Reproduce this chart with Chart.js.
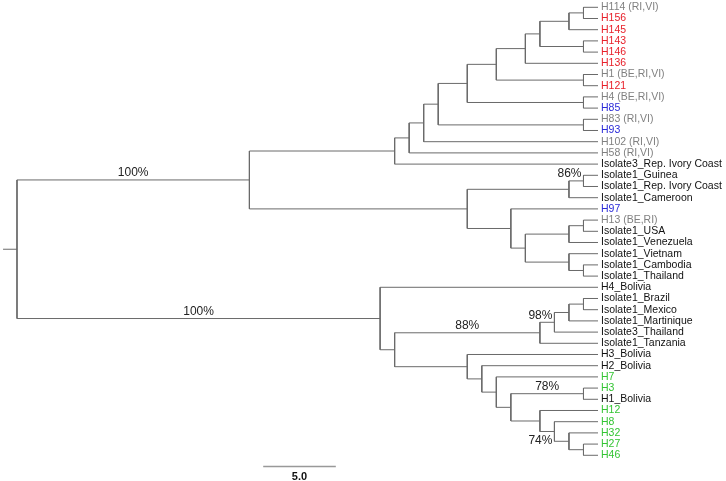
<!DOCTYPE html>
<html><head><meta charset="utf-8">
<style>html,body{margin:0;padding:0;background:#fff;}canvas{display:block;}</style>
<script src="https://cdn.jsdelivr.net/npm/chart.js@4.4.1/dist/chart.umd.min.js"></script>
</head><body>
<canvas id="c" width="726" height="481"></canvas>
<script>
// ---- data ----
const leaves = [
  'H114 (RI,VI)','H156','H145','H143','H146','H136','H1 (BE,RI,VI)','H121','H4 (BE,RI,VI)','H85',
  'H83 (RI,VI)','H93','H102 (RI,VI)','H58 (RI,VI)','Isolate3_Rep. Ivory Coast','Isolate1_Guinea',
  'Isolate1_Rep. Ivory Coast','Isolate1_Cameroon','H97','H13 (BE,RI)','Isolate1_USA','Isolate1_Venezuela',
  'Isolate1_Vietnam','Isolate1_Cambodia','Isolate1_Thailand','H4_Bolivia','Isolate1_Brazil','Isolate1_Mexico',
  'Isolate1_Martinique','Isolate3_Thailand','Isolate1_Tanzania','H3_Bolivia','H2_Bolivia','H7','H3',
  'H1_Bolivia','H12','H8','H32','H27','H46'
];
const leafGroups = [
  'gray','red','red','red','red','red','gray','red','gray','blue',
  'gray','blue','gray','gray','black','black',
  'black','black','blue','gray','black','black',
  'black','black','black','black','black','black',
  'black','black','black','black','black','green','green',
  'black','green','green','green','green','green'
];
const leafParent = [
  'A9','A9','A8','A10','A10','A6','A11','A11','A12','A12',
  'A13','A13','A2','A1','A','B1a',
  'B1a','B1','B2','B4a','B4a','B4',
  'B5','B5a','B5a','L','L2c','L2c',
  'L2b','L2a','L2','L3','L4','L5','L7',
  'L7','L8','L9','L10','L11','L11'
];
const nodeNames  = ['root','U','A','A1','A2','A3','A4','A5','A6','A7','A8','A9','A10','A11','A12','A13',
  'B','B1','B1a','B2','B3','B4','B4a','B5','B5a',
  'L','L1','L2','L2a','L2b','L2c','L3','L4','L5','L6','L7','L8','L9','L10','L11'];
const nodeParent = [null,'root','U','A','A1','A2','A3','A4','A5','A6','A7','A8','A7','A5','A4','A3',
  'U','B','B1','B','B2','B3','B4','B3','B5',
  'root','L','L1','L2','L2a','L2b','L1','L3','L4','L5','L6','L6','L8','L9','L10'];
const nodeDepth  = [0,16,26,27,28,29,31,33,35,36,38,39,39,39,39,39,
  31,38,39,34,35,38,39,38,39,
  25,26,36,37,38,39,31,32,33,34,39,36,37,38,39];
const tipDepth = 40;
const supportNodes  = ['U','L','B1a','L2','L2a','L7','L9'];
const supportValues = [100,100,86,88,98,78,74];
const supportSide   = ['above','above','above','above','above','above','below'];
const scaleBarLength = 5.0;
const scaleBarLabel = '5.0';

// ---- styles ----
const FONT = '"Liberation Sans", Arial, Helvetica, sans-serif';
const groupColors = {gray:'#808080', red:'#e8202a', blue:'#2a2ad8', green:'#33c433', black:'#111111'};
const scaleBarStart = 16.95;
const scaleBarRow = 41.0;
const rootStubStart = -0.96;

// ---- layout of tree from topology ----
const children = {};
nodeNames.forEach(n => children[n] = []);
nodeParent.forEach((p, i) => { if (p) children[p].push({type:'node', id:nodeNames[i]}); });
leafParent.forEach((p, i) => children[p].push({type:'leaf', id:i}));
const nodeY = {};
function yOf(c) { return c.type === 'leaf' ? c.id : computeY(c.id); }
function computeY(n) {
  if (nodeY[n] !== undefined) return nodeY[n];
  const ys = children[n].map(yOf);
  nodeY[n] = (Math.min(...ys) + Math.max(...ys)) / 2;
  return nodeY[n];
}
computeY('root');
const depthOf = n => nodeDepth[nodeNames.indexOf(n)];

const branchPts = [];
const gap = x => ({x, y: null});
// root stub
branchPts.push({x: rootStubStart, y: nodeY['root']}, {x: 0, y: nodeY['root']}, gap(0));
// horizontal branches for internal nodes
nodeNames.forEach((n, i) => {
  const p = nodeParent[i];
  if (!p) return;
  branchPts.push({x: depthOf(p), y: nodeY[n]}, {x: nodeDepth[i], y: nodeY[n]}, gap(nodeDepth[i]));
});
// horizontal branches for leaves
leaves.forEach((l, i) => {
  branchPts.push({x: depthOf(leafParent[i]), y: i}, {x: tipDepth, y: i}, gap(tipDepth));
});
// verticals
nodeNames.forEach((n, i) => {
  const ys = children[n].map(yOf);
  branchPts.push({x: nodeDepth[i], y: Math.min(...ys)}, {x: nodeDepth[i], y: Math.max(...ys)}, gap(nodeDepth[i]));
});
const barPts = [{x: scaleBarStart, y: scaleBarRow}, {x: scaleBarStart + scaleBarLength, y: scaleBarRow}];

const supportPlugin = {
  id: 'support',
  afterDatasetsDraw(chart) {
    const {ctx, scales: {x, y}} = chart;
    ctx.save();
    ctx.font = '12px ' + FONT;
    ctx.fillStyle = '#222';
    ctx.textBaseline = 'alphabetic';
    supportNodes.forEach((n, k) => {
      const i = nodeNames.indexOf(n);
      const x1 = x.getPixelForValue(depthOf(nodeParent[i]));
      const x2 = x.getPixelForValue(nodeDepth[i]);
      const yp = y.getPixelForValue(nodeY[n]);
      const txt = supportValues[k] + '%';
      const w = ctx.measureText(txt).width;
      let tx;
      if (x2 - x1 > w + 8) { tx = (x1 + x2) / 2; ctx.textAlign = 'center'; }
      else { tx = x2 - 2; ctx.textAlign = 'right'; }
      const ty = supportSide[k] === 'below' ? yp + 12.5 : yp - 3.5;
      ctx.fillText(txt, tx, ty);
    });
    ctx.restore();
  }
};

new Chart(document.getElementById('c'), {
  type: 'scatter',
  data: {
    datasets: [
      {data: branchPts, showLine: true, borderColor: '#6a6a6a', borderWidth: 1, pointRadius: 0, spanGaps: false, tension: 0},
      {data: barPts, showLine: true, borderColor: '#999999', borderWidth: 1.5, pointRadius: 0}
    ]
  },
  options: {
    responsive: false,
    animation: false,
    devicePixelRatio: 1,
    layout: {padding: 0},
    plugins: {legend: {display: false}, tooltip: {enabled: false}},
    scales: {
      x: {
        type: 'linear', min: -1.17, max: tipDepth,
        grid: {display: false, drawTicks: false},
        border: {display: false},
        afterBuildTicks: s => { s.ticks = [{value: scaleBarStart + scaleBarLength / 2}]; },
        ticks: {autoSkip: false, maxRotation: 0, padding: 1, color: '#111',
          font: {family: FONT, size: 11, weight: 'bold'},
          callback: () => scaleBarLabel},
        afterFit: s => { s.height = 12; s.paddingLeft = 0; s.paddingRight = 0; }
      },
      y: {
        type: 'linear', position: 'right', reverse: true, min: -0.652, max: 41.224,
        grid: {display: false, drawTicks: false},
        border: {display: false},
        afterBuildTicks: s => { s.ticks = leaves.map((_, i) => ({value: i})); },
        ticks: {autoSkip: false, padding: 3,
          font: {family: FONT, size: 10.5},
          color: c => groupColors[leafGroups[c.index]],
          callback: v => leaves[v]},
        afterFit: s => { s.width = 128; s.paddingTop = 0; s.paddingBottom = 0; }
      }
    }
  },
  plugins: [supportPlugin]
});
</script>
</body></html>
